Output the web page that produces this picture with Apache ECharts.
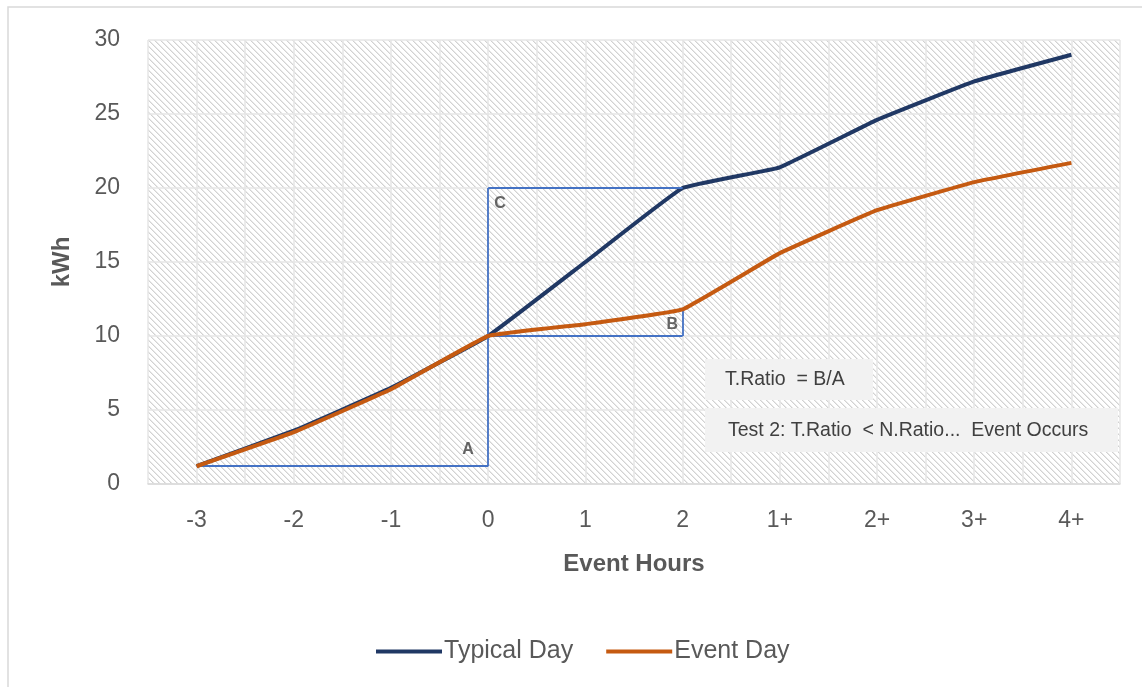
<!DOCTYPE html>
<html>
<head>
<meta charset="utf-8">
<script src="https://cdn.jsdelivr.net/npm/echarts@6/dist/echarts.min.js"></script>
<style>
  html, body { margin: 0; padding: 0; background: #ffffff; }
  #chart { width: 1142px; height: 687px; }
</style>
</head>
<body>
<div id="chart"></div>
<script>
// Hourly cumulative consumption around the event window
const categories = ['-3', '-2', '-1', '0', '1', '2', '1+', '2+', '3+', '4+'];
const typicalDay = [1.2, 3.6, 6.5, 10, 15, 20, 21.4, 24.6, 27.2, 29.0];
const eventDay   = [1.2, 3.5, 6.4, 10, 10.8, 11.8, 15.6, 18.5, 20.4, 21.7];
const yTicks = { min: 0, max: 30, interval: 5 };

const FONT = '"Liberation Sans", Arial, sans-serif';
const TEXT = '#595959';

// Pixel-drawn diagonal hatch tile for the plot background
function hatchTile() {
  const s = 6;
  const c = document.createElement('canvas');
  c.width = s; c.height = s;
  const g = c.getContext('2d');
  g.fillStyle = '#ffffff';
  g.fillRect(0, 0, s, s);
  for (let y = 0; y < s; y++) {
    g.fillStyle = '#d2d2d2';
    g.fillRect(y % s, y, 1, 1);
    g.fillStyle = '#e9e9e9';
    g.fillRect((y + 1) % s, y, 1, 1);
  }
  return c;
}

// Indices used by the T.Ratio construction boxes
const iStart = categories.indexOf('-3');
const iZero = categories.indexOf('0');
const iTwo = categories.indexOf('2');
const base = typicalDay[iStart];
const atZero = typicalDay[iZero];
const typAtTwo = typicalDay[iTwo];
const evtAtTwo = eventDay[iTwo];

const boxSegments = [
  [[iStart, base], [iZero, base]],
  [[iZero, base], [iZero, typAtTwo]],
  [[iZero, typAtTwo], [iTwo, typAtTwo]],
  [[iZero, atZero], [iTwo, atZero]],
  [[iTwo, atZero], [iTwo, evtAtTwo]]
].map(seg => [{ coord: seg[0] }, { coord: seg[1] }]);

const letterStyle = { fontFamily: FONT, fontSize: 16, fontWeight: 'bold', color: '#404040' };

const chart = echarts.init(document.getElementById('chart'), null, { renderer: 'canvas' });

chart.setOption({
  animation: false,
  backgroundColor: '#ffffff',
  grid: {
    left: 148, right: 22, top: 40, bottom: 203,
    show: true,
    borderWidth: 0,
    backgroundColor: { image: hatchTile(), repeat: 'repeat' }
  },
  xAxis: [
    {
      type: 'category',
      data: categories,
      boundaryGap: true,
      axisLine: { show: true, lineStyle: { color: '#d9d9d9', width: 1.5 } },
      axisTick: { show: false },
      splitLine: { show: false },
      axisLabel: { color: TEXT, fontFamily: FONT, fontSize: 23, margin: 25 },
      name: 'Event Hours',
      nameLocation: 'middle',
      nameGap: 68,
      nameTextStyle: { color: TEXT, fontFamily: FONT, fontSize: 24, fontWeight: 'bold' }
    },
    {
      // half-category vertical grid
      type: 'value',
      min: 0, max: 20, interval: 1,
      position: 'bottom',
      axisLine: { show: false },
      axisTick: { show: false },
      axisLabel: { show: false },
      splitLine: { show: true, lineStyle: { color: '#e6e6e6', width: 1.5 } }
    }
  ],
  yAxis: {
    type: 'value',
    min: yTicks.min, max: yTicks.max, interval: yTicks.interval,
    axisLine: { show: false },
    axisTick: { show: false },
    axisLabel: { color: TEXT, fontFamily: FONT, fontSize: 23, margin: 28 },
    splitLine: { show: true, lineStyle: { color: '#e6e6e6', width: 1.5 } },
    name: 'kWh',
    nameLocation: 'middle',
    nameGap: 74,
    nameRotate: 90,
    nameTextStyle: { color: TEXT, fontFamily: FONT, fontSize: 24, fontWeight: 'bold' }
  },
  legend: {
    left: 371,
    top: 634,
    icon: 'rect',
    itemWidth: 66,
    itemHeight: 4,
    itemGap: 33,
    textStyle: { color: TEXT, fontFamily: FONT, fontSize: 25, padding: [0, 0, 0, -3] },
    data: ['Typical Day', 'Event Day']
  },
  series: [
    {
      name: 'Typical Day',
      type: 'line',
      data: typicalDay,
      smooth: 0.08,
      symbol: 'none',
      z: 4,
      lineStyle: { color: '#203864', width: 4 },
      itemStyle: { color: '#203864' }
    },
    {
      name: 'Event Day',
      type: 'line',
      data: eventDay,
      smooth: 0.08,
      symbol: 'none',
      z: 5,
      lineStyle: { color: '#c55a11', width: 4 },
      itemStyle: { color: '#c55a11' }
    },
    {
      name: 'ratio-boxes',
      type: 'line',
      data: [],
      z: 3,
      markLine: {
        silent: true,
        symbol: ['none', 'none'],
        label: { show: false },
        lineStyle: { color: '#4472c4', width: 1.8, type: 'solid' },
        data: boxSegments
      }
    },
    {
      name: 'ratio-letters',
      type: 'scatter',
      symbolSize: 0,
      silent: true,
      z: 6,
      data: [
        { value: [iZero, base], label: { show: true, formatter: 'A', position: [-26, -25], ...letterStyle } },
        { value: [iTwo, atZero], label: { show: true, formatter: 'B', position: [-16, -19], ...letterStyle } },
        { value: [iZero, typAtTwo], label: { show: true, formatter: 'C', position: [6, 8], ...letterStyle } }
      ]
    }
  ],
  graphic: [
    {
      type: 'rect',
      silent: true,
      shape: { x: 8, y: 7, width: 1200, height: 800 },
      style: { fill: 'none', stroke: '#d9d9d9', lineWidth: 1.5 },
      z: -10
    },
    {
      type: 'rect',
      z: 100,
      shape: { x: 705, y: 359, width: 168, height: 41 },
      style: { fill: '#f2f2f2' }
    },
    {
      type: 'text',
      z: 101,
      x: 725, y: 380,
      style: { text: 'T.Ratio  = B/A', fontFamily: FONT, fontSize: 19.5, fill: '#404040', verticalAlign: 'middle' }
    },
    {
      type: 'rect',
      z: 100,
      shape: { x: 705, y: 408, width: 413, height: 44 },
      style: { fill: '#f2f2f2' }
    },
    {
      type: 'text',
      z: 101,
      x: 728, y: 431,
      style: { text: 'Test 2: T.Ratio  < N.Ratio...  Event Occurs', fontFamily: FONT, fontSize: 19.5, fill: '#404040', verticalAlign: 'middle' }
    }
  ]
});
</script>
</body>
</html>
